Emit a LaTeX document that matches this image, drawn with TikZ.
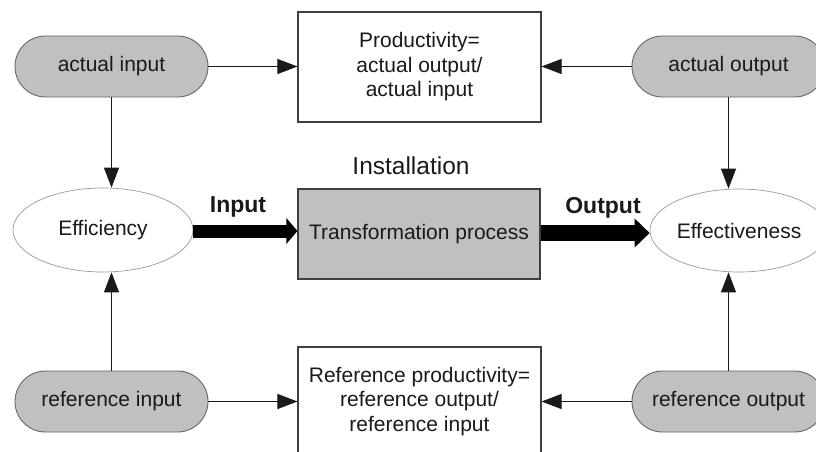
\documentclass[tikz,border=0pt]{standalone}
\usepackage{fontspec}
\setmainfont{Liberation Sans}
\usetikzlibrary{shapes.misc,shapes.geometric,arrows.meta}
\definecolor{txt}{HTML}{1A1A1A}
\definecolor{fillg}{HTML}{C0C0C0}
\definecolor{edge}{HTML}{404040}
\definecolor{ell}{HTML}{9A9A9A}
\tikzset{
  base/.style={text=txt, font=\fontsize{21}{24.5}\selectfont, inner sep=0pt},
  pill/.style={base, rounded rectangle, draw=edge!80, fill=fillg, line width=0.9pt, minimum width=193pt, minimum height=61pt},
  ratio/.style={base, rectangle, draw=edge, line width=1.1pt, minimum width=243pt, minimum height=110pt, align=center},
  procbox/.style={base, rectangle, draw=edge, fill=fillg, line width=1.1pt, minimum width=242pt, minimum height=90pt},
  measure/.style={base, ellipse, draw=ell, line width=0.7pt, fill=white},
  thin/.style={draw=txt, line width=1pt, -{Triangle[length=20pt,width=15pt]}},
  flowlbl/.style={text=txt, font=\bfseries\fontsize{23}{26}\selectfont, inner sep=0pt},
}
\begin{document}
\begin{tikzpicture}[x=1pt,y=-1pt]
\useasboundingbox (0,0) rectangle (816,452);
\fill[white] (0,0) rectangle (816,452);
% nodes
\node[pill] (ain) at (111.5,66.5) {actual input};
\node[pill] (aout) at (728.5,66.5) {actual output};
\node[pill] (rin) at (111.5,401.5) {reference input};
\node[pill] (rout) at (728.5,401.5) {reference output};
\node[ratio] (prod) at (419.5,67) {Productivity=\\actual output/\\actual input};
\node[ratio] (rprod) at (419.5,402) {\raisebox{4pt}{\begin{tabular}{@{}c@{}}Reference productivity=\\reference output/\\reference input\end{tabular}}};
\node[procbox] (tp) at (419,234) {Transformation process};
\node[measure, minimum width=180pt, minimum height=84pt] (eff) at (103,230) {Efficiency};
\node[measure, minimum width=178pt, minimum height=83pt] (effect) at (739,230.5) {Effectiveness};
\node[base, font=\fontsize{24.5}{28}\selectfont] (inst) at (411,166) {Installation};
\node[flowlbl] (inlbl) at (238,207) {Input};
\node[flowlbl] (outlbl) at (603,208) {Output};
% thin connectors
\draw[thin] (ain.east) -- (ain.east -| prod.west);
\draw[thin] (aout.west) -- (aout.west -| prod.east);
\draw[thin] (rin.east) -- (rin.east -| rprod.west);
\draw[thin] (rout.west) -- (rout.west -| rprod.east);
\draw[thin] (ain.south) -- (ain.south |- eff.north);
\draw[thin] (rin.north) -- (rin.north |- eff.south);
\draw[thin] (aout.south) -- (aout.south |- effect.north);
\draw[thin] (rout.north) -- (rout.north |- effect.south);
% thick flows
\draw[line width=13pt, draw=black, -{Triangle[length=11pt,width=25pt]}] ([yshift=-1pt]eff.east) -- ([yshift=-1pt]eff.east -| tp.west);
\draw[line width=16pt, draw=black, -{Triangle[length=15pt,width=28pt]}] ([yshift=1pt]tp.east) -- ([yshift=1pt]tp.east -| effect.west);
\end{tikzpicture}
\end{document}
